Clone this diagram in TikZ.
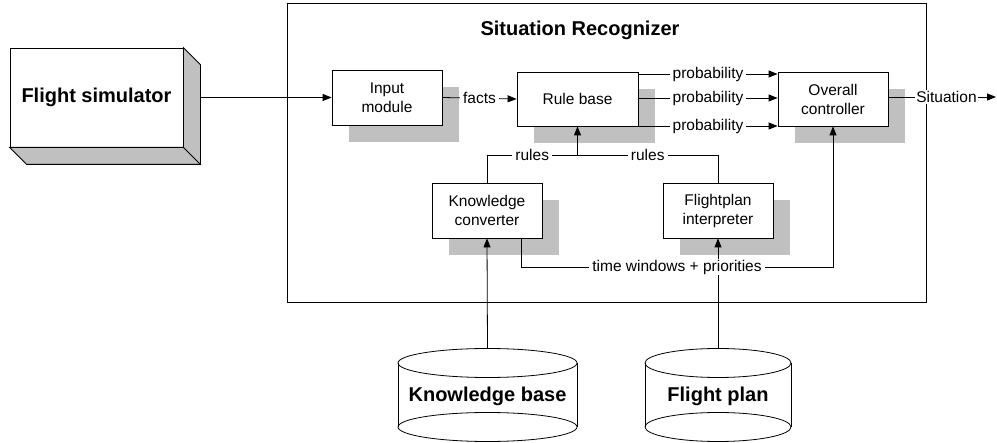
\documentclass[tikz,border=0pt]{standalone}
\usepackage{fontspec}
\setmainfont{Liberation Sans}
\usetikzlibrary{arrows.meta,calc,shadows}
\definecolor{shadowgray}{HTML}{C0C0C0}
\begin{document}
\begin{tikzpicture}[x=1pt,y=-1pt,
  every node/.style={font=\fontsize{15.5}{19}\selectfont, inner sep=0pt},
  conn/.style={line width=0.8pt},
  arr/.style={conn, -{Triangle[length=9pt,width=7pt]}},
  box/.style={draw, fill=white, line width=0.8pt, align=center,
    minimum width=110pt, minimum height=55pt,
    drop shadow={shadow xshift=17pt, shadow yshift=-17pt, fill=shadowgray, opacity=1}},
  lbl/.style={fill=white, inner xsep=3pt, inner ysep=1pt},
  big/.style={font=\fontsize{20}{24}\selectfont\bfseries},
  cylline/.style={line width=0.8pt}
]
\useasboundingbox (0,0) rectangle (997,443);

% outer frame
\node[draw, line width=0.8pt, minimum width=639pt, minimum height=299pt, anchor=north west] (sr) at (287,3) {};
\node[big] (title) at (580,30) {Situation Recognizer};

% flight simulator (3D box)
\node[draw, fill=white, line width=0.8pt, minimum width=173pt, minimum height=99pt, big] (fs) at (96.5,97.5) {Flight simulator};
\draw[line width=0.8pt, fill=shadowgray] (fs.north east) -- ($(fs.north east)+(17,17)$) -- ($(fs.south east)+(17,17)$)
  -- ($(fs.south west)+(17,17)$) -- (fs.south west) -- (fs.south east) -- cycle;
\draw[line width=0.8pt] (fs.south east) -- ($(fs.south east)+(17,17)$);

% boxes
\node[box] (im) at (387,97.5) {Input\\module};
\node[box, minimum width=121pt, minimum height=54pt] (rb) at (577.5,99) {Rule base};
\node[box, minimum height=54pt] (oc) at (833,99) {Overall\\controller};
\node[box] (kc) at (487,210.5) {Knowledge\\converter};
\node[box] (fi) at (718,210.5) {Flightplan\\interpreter};

% knowledge base cylinder
\fill[white] (398,363) rectangle (577,427);
\draw[cylline] (398,363) -- (398,427);
\draw[cylline] (577,363) -- (577,427);
\draw[cylline] (487.5,363) ellipse [x radius=89.5pt, y radius=14.5pt];
\draw[cylline] (487.5,427) ellipse [x radius=89.5pt, y radius=14.5pt];
\node[big] (kb) at (487.5,396) {Knowledge base};
\coordinate (kbtop) at (487.5,348.5);

% flight plan cylinder
\fill[white] (645,363) rectangle (791,427);
\draw[cylline] (645,363) -- (645,427);
\draw[cylline] (791,363) -- (791,427);
\draw[cylline] (718,363) ellipse [x radius=73pt, y radius=14.5pt];
\draw[cylline] (718,427) ellipse [x radius=73pt, y radius=14.5pt];
\node[big] (fp) at (718,396) {Flight plan};
\coordinate (fptop) at (718,348.5);

\draw[arr] (kbtop) -- (kc.south);
\draw[arr] (fptop) -- (fi.south);

% connectors
\draw[arr] ($(fs.east)+(17,0)$) -- (im.west);
\draw[arr] (im.east) -- node[lbl]{facts} (rb.west);
\draw[arr] (rb.east |- 0,74) -- node[lbl]{probability} (oc.west |- 0,74);
\draw[arr] (rb.east |- 0,98) -- node[lbl]{probability} (oc.west |- 0,98);
\draw[arr] (rb.east |- 0,126) -- node[lbl]{probability} (oc.west |- 0,126);

\coordinate (j) at (577.5,155);
\draw[conn] (kc.north) |- node[lbl,pos=0.75]{rules} (j);
\draw[conn] (fi.north) |- node[lbl,pos=0.75]{rules} (j);
\draw[arr] (j) -- (rb.south);

\coordinate (tw) at (521,238);
\draw[arr] (tw) -- (521,267) -| node[lbl,pos=0.25]{time windows + priorities} (oc.south);

% situation output
\node[lbl, inner xsep=1pt] (sit) at (946.5,97) {Situation};
\coordinate (sitend) at (996,97);
\draw[conn] (oc.east |- sit) -- (sit.west);
\draw[arr] (sit.east) -- (sitend);
\end{tikzpicture}
\end{document}
